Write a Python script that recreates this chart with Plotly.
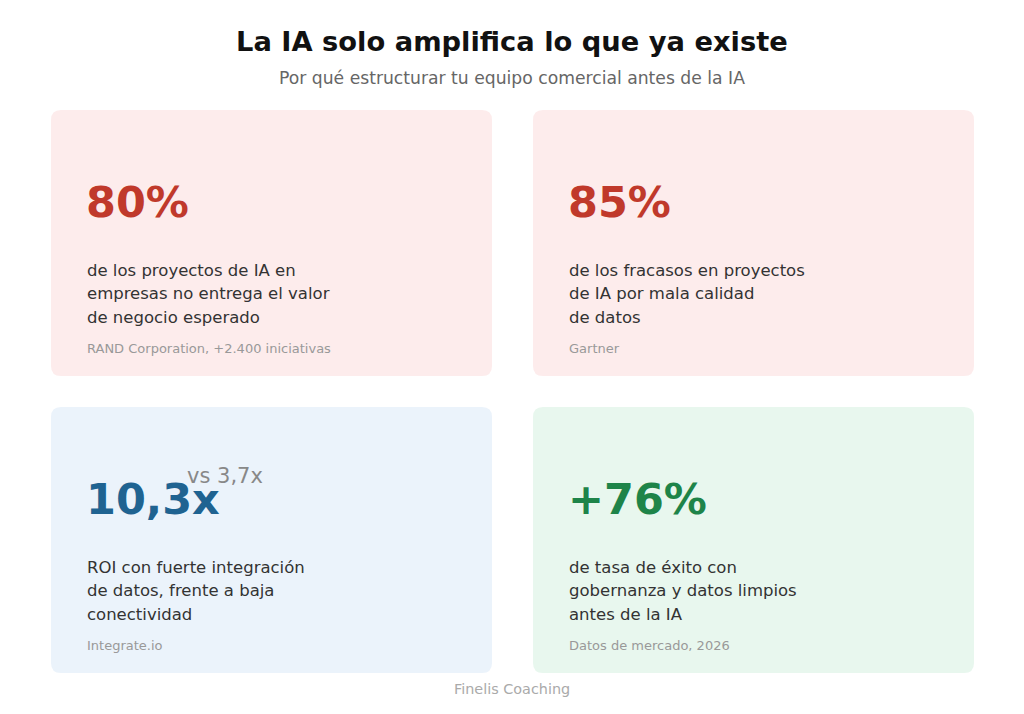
import plotly.graph_objects as go

# data
TITLE = "La IA solo amplifica lo que ya existe"
SUBTITLE = "Por qué estructurar tu equipo comercial antes de la IA"
FOOTER = "Finelis Coaching"

values = ["80%", "85%", "10,3x", "+76%"]
comparisons = ["", "", "vs 3,7x", ""]
descriptions = [
    ["de los proyectos de IA en", "empresas no entrega el valor", "de negocio esperado"],
    ["de los fracasos en proyectos", "de IA por mala calidad", "de datos"],
    ["ROI con fuerte integración", "de datos, frente a baja", "conectividad"],
    ["de tasa de éxito con", "gobernanza y datos limpios", "antes de la IA"],
]
sources = ["RAND Corporation, +2.400 iniciativas", "Gartner", "Integrate.io", "Datos de mercado, 2026"]
themes = ["red", "red", "blue", "green"]

# styles
W, H = 1024, 714
PAD = 8  # page body margin, the figure is drawn offset by this
FONT = "DejaVu Sans"
PALETTE = {
    "red": dict(bg="#FDECEC", fg="#C0392B"),
    "blue": dict(bg="#EBF3FB", fg="#1F6391"),
    "green": dict(bg="#E8F7EE", fg="#1E8449"),
}
CARD_W, CARD_H = 441, 266
COL_X = [51, 533]
ROW_Y = [110, 407]
RADIUS = 10


def rounded_rect(x0, y0, x1, y1, r):
    return (f"M {x0 + r},{y0} L {x1 - r},{y0} Q {x1},{y0} {x1},{y0 + r} "
            f"L {x1},{y1 - r} Q {x1},{y1} {x1 - r},{y1} "
            f"L {x0 + r},{y1} Q {x0},{y1} {x0},{y1 - r} "
            f"L {x0},{y0 + r} Q {x0},{y0} {x0 + r},{y0} Z")


fig = go.Figure()
shapes, annotations = [], []

for i, val in enumerate(values):
    x0 = COL_X[i % 2]
    y0 = ROW_Y[i // 2]
    pal = PALETTE[themes[i]]
    shapes.append(dict(type="path", path=rounded_rect(x0, y0, x0 + CARD_W, y0 + CARD_H, RADIUS),
                       fillcolor=pal["bg"], line_width=0, layer="below",
                       xref="x", yref="y"))
    tx = x0 + 34
    # big number
    annotations.append(dict(x=tx - 1, y=y0 + 92, text=f"<b>{val}</b>", showarrow=False,
                            xanchor="left", yanchor="middle",
                            font=dict(family=FONT, size=43, color=pal["fg"])))
    if comparisons[i]:
        annotations.append(dict(x=tx + 100, y=y0 + 69, text=comparisons[i], showarrow=False,
                                xanchor="left", yanchor="middle",
                                font=dict(family=FONT, size=21, color="#888888")))
    # description lines
    for j, line in enumerate(descriptions[i]):
        annotations.append(dict(x=tx, y=y0 + 160 + j * 23.5, text=line, showarrow=False,
                                xanchor="left", yanchor="middle",
                                font=dict(family=FONT, size=16.5, color="#333333")))
    # source
    annotations.append(dict(x=tx, y=y0 + 238, text=sources[i], showarrow=False,
                            xanchor="left", yanchor="middle",
                            font=dict(family=FONT, size=13, color="#999999")))

annotations.append(dict(x=W / 2, y=41, text=f"<b>{TITLE}</b>", showarrow=False,
                        xanchor="center", yanchor="middle",
                        font=dict(family=FONT, size=27.3, color="#111111")))
annotations.append(dict(x=W / 2, y=78, text=SUBTITLE, showarrow=False,
                        xanchor="center", yanchor="middle",
                        font=dict(family=FONT, size=17.2, color="#666666")))
annotations.append(dict(x=W / 2, y=689, text=FOOTER, showarrow=False,
                        xanchor="center", yanchor="middle",
                        font=dict(family=FONT, size=14.4, color="#AAAAAA")))

fig.update_layout(
    width=W - PAD, height=H - PAD,
    margin=dict(l=0, r=0, t=0, b=0),
    paper_bgcolor="white", plot_bgcolor="white",
    shapes=shapes, annotations=annotations,
    showlegend=False,
    xaxis=dict(range=[PAD, W], visible=False, fixedrange=True),
    yaxis=dict(range=[H, PAD], visible=False, fixedrange=True),
)

fig.write_html("out.html", config={"displayModeBar": False})
